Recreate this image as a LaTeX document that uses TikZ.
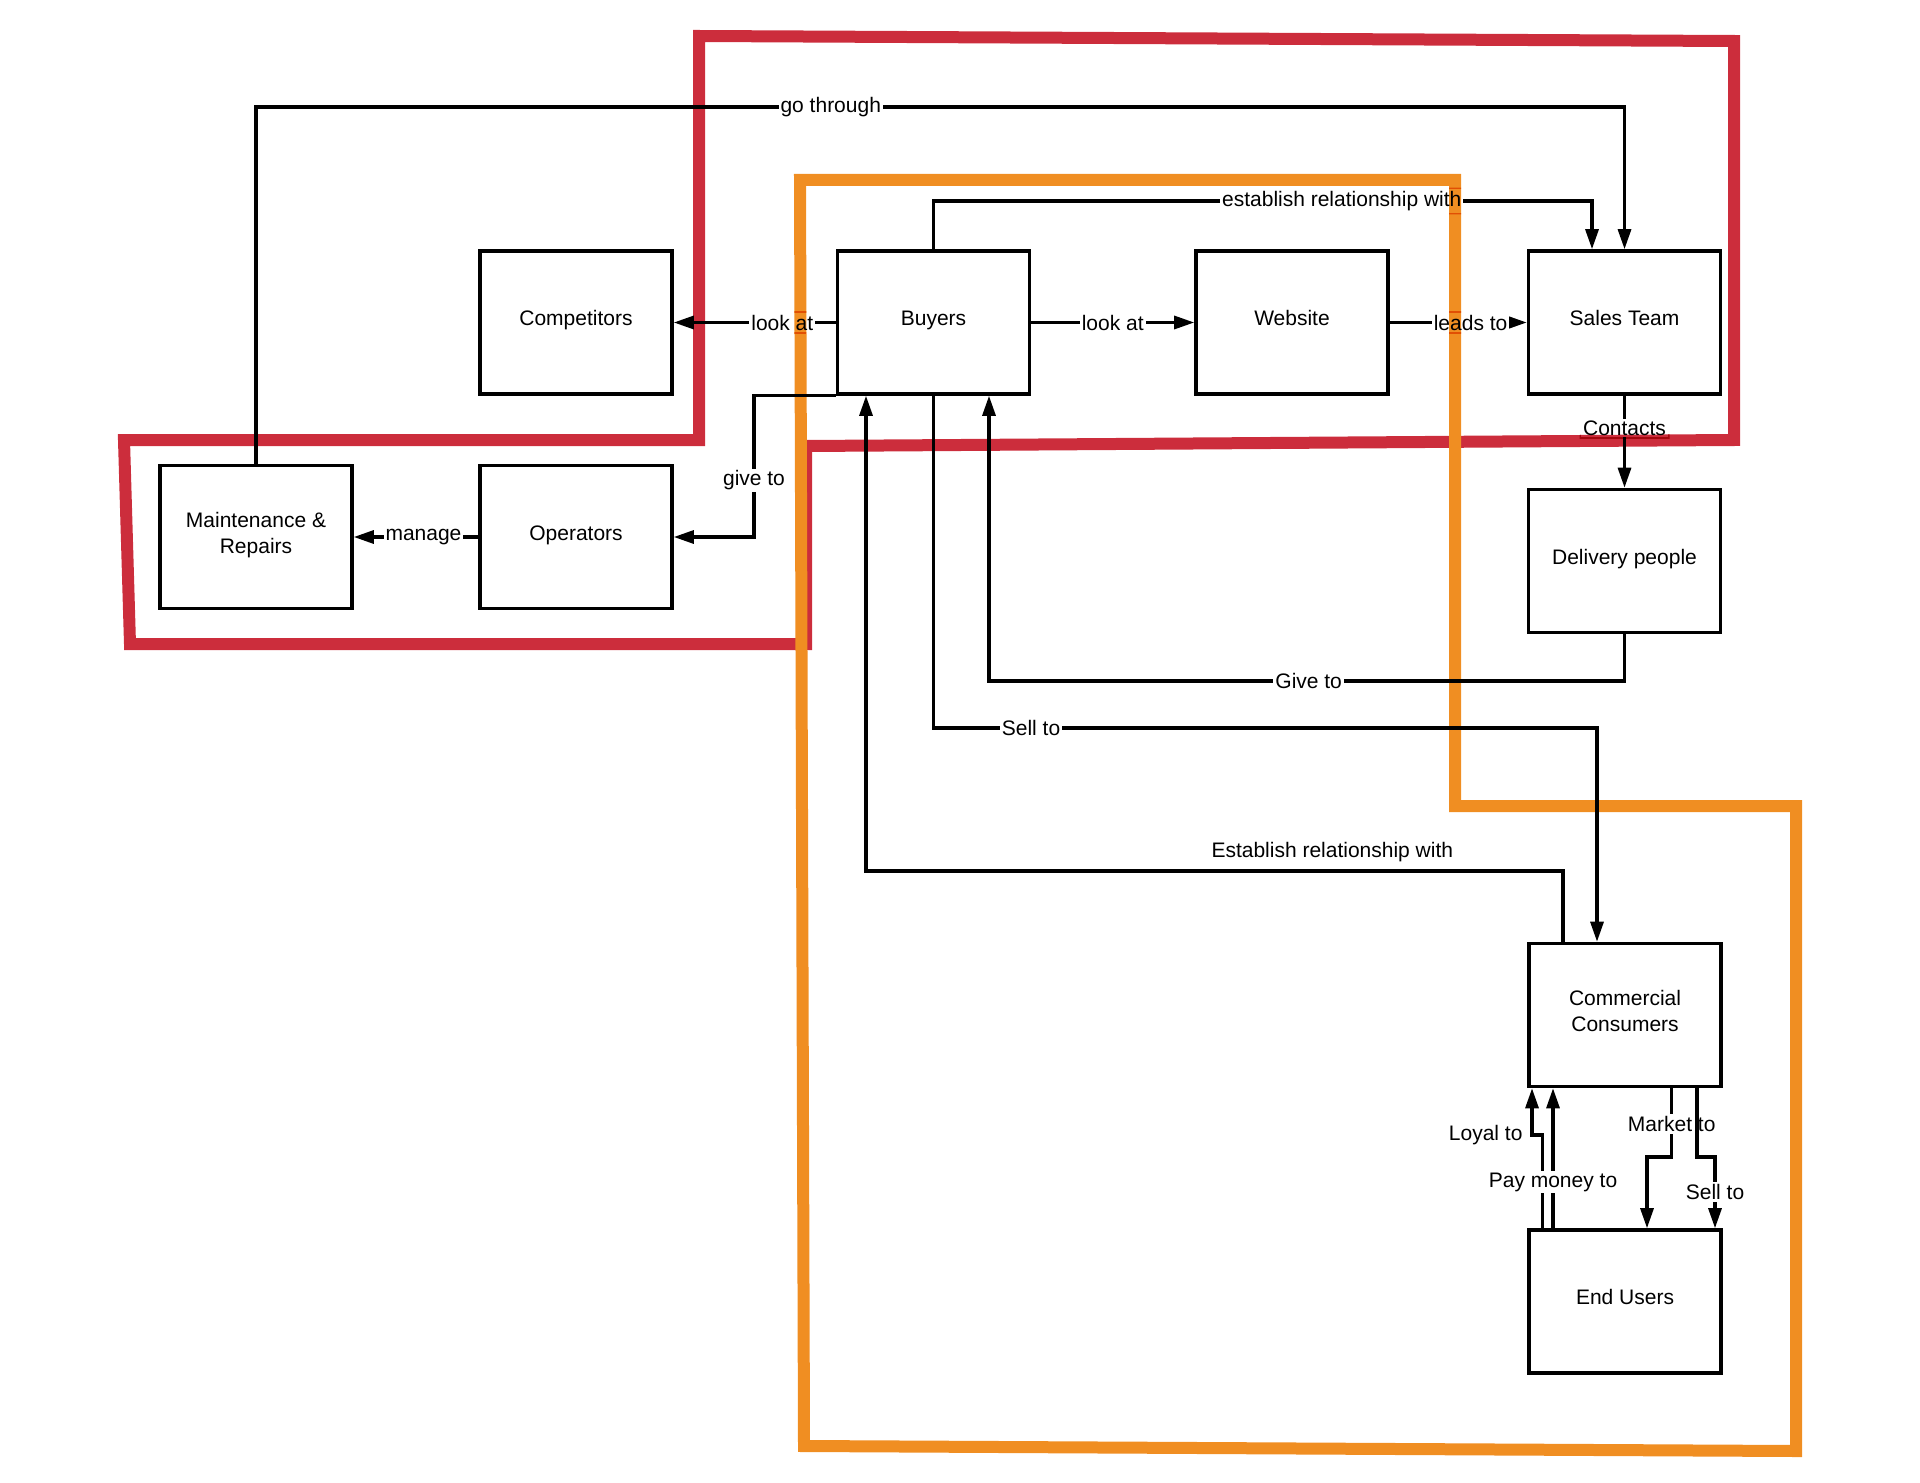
\documentclass[tikz,border=0pt]{standalone}
\usepackage{fontspec}
\setmainfont{Liberation Sans}
\usetikzlibrary{arrows.meta,calc}
\pgfdeclarelayer{bg}
\pgfdeclarelayer{fg}
\pgfsetlayers{bg,main,fg}
\definecolor{grpred}{RGB}{204,45,60}
\definecolor{grporange}{RGB}{240,142,34}
\tikzset{
  box/.style={draw=black, line width=1.8pt, fill=white, minimum width=96pt, minimum height=71.5pt,
    align=center, inner sep=0pt, font=\fontsize{10.5}{13}\selectfont,
    text height=7.5pt, text depth=4.5pt},
  twoline/.style={text height=20.5pt, text depth=4.5pt},
  conn/.style={draw=black, line width=1.55pt},
  arr/.style={conn, -{Triangle[length=10pt,width=6.5pt]}},
  lab/.style={fill=white, inner sep=1pt, text=black, font=\fontsize{10.5}{13}\selectfont},
  freelab/.style={inner sep=1pt, text=black, font=\fontsize{10.5}{13}\selectfont},
  redline/.style={draw=grpred, line width=6pt, line join=miter},
  orangeline/.style={draw=grporange, line width=6pt, line join=miter}
}
\begin{document}
\begin{tikzpicture}[x=0.5pt, y=-0.5pt]
\useasboundingbox (0,0) rectangle (1920,1482);

% group outlines (behind)
\begin{pgfonlayer}{bg}
  \draw[redline] (699,440) -- (699,36) -- (1734,41) -- (1734,440) -- (806,446) -- (806,644) -- (130,644) -- (124,440) -- cycle;
  \draw[orangeline] (800,180) -- (1455,180) -- (1455,806) -- (1796,806) -- (1796,1451) -- (804,1446) -- cycle;
\end{pgfonlayer}

% boxes
\node[box] (comp)  at (576,322.5)   {Competitors};
\node[box] (buy)   at (933.5,322.5) {Buyers};
\node[box] (web)   at (1292,322.5)  {Website};
\node[box] (sales) at (1624.5,322.5) {Sales Team};
\node[box,twoline] (maint) at (256,537) {Maintenance \&\\Repairs};
\node[box] (oper)  at (576,537)     {Operators};
\node[box] (deliv) at (1624.5,561)  {Delivery people};
\node[box,twoline] (cc) at (1625,1015) {Commercial\\Consumers};
\node[box] (eu)    at (1625,1301.5) {End Users};

% connectors
\draw[arr] (buy.west) -- node[lab,pos=0.33] (lLook1) {look at} (comp.east);
\draw[arr] (buy.east) -- node[lab,pos=0.5] (lLook2) {look at} (web.west);
\draw[arr] (web.east) -- node[lab,pos=0.59] (lLeads) {leads to} (sales.west);

\draw[arr] (buy.north) -- (buy.north |- 0,201)
  -- node[lab,pos=0.62] (lEst) {establish relationship with} (1592,201)
  -- (1592,0 |- sales.north);

\draw[arr] (maint.north) -- (maint.north |- 0,107)
  -- node[lab,pos=0.42] (lGo) {go through} (sales.north |- 0,107)
  -- (sales.north);

\draw[arr] (buy.south west) -- (754,0 |- buy.south west)
  -- node[lab,pos=0.6] (lGive1) {give to} (754,0 |- oper.east)
  -- (oper.east);

\draw[arr] (oper.west) -- node[lab,pos=0.44] (lMan) {manage} (maint.east);

\draw[arr] (sales.south) -- node[lab,pos=0.35] (lCont) {Contacts} (deliv.north);

\draw[arr] (deliv.south) -- (deliv.south |- 0,681)
  -- node[lab,pos=0.497] (lGive2) {Give to} (989,681)
  -- (989,0 |- buy.south);

\draw[arr] (buy.south) -- (buy.south |- 0,728)
  -- node[lab,pos=0.147] (lSell1) {Sell to} (1597,728)
  -- (1597,0 |- cc.north);

\draw[arr] (1563,0 |- cc.north) -- (1563,871)
  -- node[freelab,pos=0.331,above=3pt] (lEst2) {Establish relationship with} (866,871)
  -- (866,0 |- buy.south);

\draw[arr] (1542.7,0 |- eu.north) -- (1542.7,1135)
  -- (1532,1135) node[freelab,left=3pt] (lLoyal) {Loyal to}
  -- (1532,0 |- cc.south);

\draw[arr] (1553,0 |- eu.north) -- node[lab,pos=0.33] (lPay) {Pay money to} (1553,0 |- cc.south);

\draw[arr] (1671.7,0 |- cc.south) -- node[lab,pos=0.52] (lMarket) {Market to} (1671.7,1157)
  -- (1647,1157) -- (1647,0 |- eu.north);

\draw[arr] (1697,0 |- cc.south) -- (1697,1157) -- (1715,1157)
  -- node[lab,pos=0.49] (lSell2) {Sell to} (1715,0 |- eu.north);

% outlines showing through label backgrounds
\begin{pgfonlayer}{fg}
\begin{scope}[blend mode=multiply]
  \clip (lLook1.south west) rectangle (lLook1.north east)
        (lLeads.south west) rectangle (lLeads.north east)
        (lEst.south west) rectangle (lEst.north east)
        (lCont.south west) rectangle (lCont.north east);
  \draw[redline] (699,440) -- (699,36) -- (1734,41) -- (1734,440) -- (806,446) -- (806,644) -- (130,644) -- (124,440) -- cycle;
  \draw[orangeline] (800,180) -- (1455,180) -- (1455,806) -- (1796,806) -- (1796,1451) -- (804,1446) -- cycle;
\end{scope}
\end{pgfonlayer}
\end{tikzpicture}
\end{document}
